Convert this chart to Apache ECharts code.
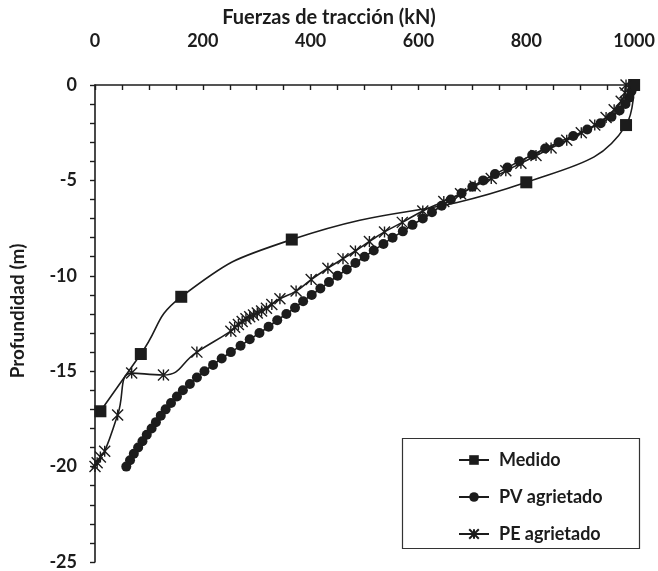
<!DOCTYPE html>
<html><head><meta charset="utf-8">
<script src="https://cdn.jsdelivr.net/npm/echarts@6/dist/echarts.min.js"></script>
<style>html,body{margin:0;padding:0;background:#fff}#c{width:658px;height:571px}</style>
</head><body><div id="c"></div>
<script>
// ---- data ----
const xTickMin = 0, xTickMax = 1000, xTickStep = 200;
const yTickMin = -25, yTickMax = 0, yTickStep = 5;

const medidoX = [1000, 985, 800, 365, 160, 85, 10];
const medidoY = [0, -2.1, -5.1, -8.1, -11.1, -14.1, -17.1];

const pvY = [0,-0.33,-0.67,-1,-1.33,-1.67,-2,-2.33,-2.67,-3,-3.33,-3.67,-4,-4.33,-4.67,-5,-5.33,-5.67,-6,-6.33,-6.67,-7,-7.33,-7.67,-8,-8.33,-8.67,-9,-9.33,-9.67,-10,-10.33,-10.67,-11,-11.33,-11.67,-12,-12.33,-12.67,-13,-13.33,-13.67,-14,-14.33,-14.67,-15,-15.33,-15.67,-16,-16.33,-16.67,-17,-17.33,-17.67,-18,-18.33,-18.67,-19,-19.33,-19.67,-20];
const pvX = [997,995,991,984,973,958,938,913,887,860,835,811,787,765,742,720,700,680,660,643,625,608,589,571,552,535,517,500,483,467,450,434,418,402,386,371,355,338,322,305,287,270,252,235,219,203,189,176,163,152,141,131,122,113,105,96,88,80,72,65,58];

const peY = [0,-0.4,-0.85,-1.3,-1.7,-2.1,-2.5,-2.9,-3.3,-3.7,-4.1,-4.5,-4.9,-5.3,-5.7,-6.1,-6.6,-7.2,-7.7,-8.2,-8.7,-9.1,-9.6,-10.2,-10.8,-11.2,-11.5,-11.7,-11.85,-11.95,-12.05,-12.15,-12.25,-12.4,-12.55,-12.7,-12.9,-14.0,-15.2,-15.1,-17.3,-19.2,-19.5,-19.8,-20.0];
const peX = [985,983,976,963,948,927,902,875,846,818,790,762,735,705,678,647,608,570,537,509,483,460,432,401,373,343,328,318,309,301,294,287,280,273,266,259,252,189,127,68,42,18,10,4,0];

const seriesNames = ['Medido', 'PV agrietado', 'PE agrietado'];
const xTitle = 'Fuerzas de tracción (kN)';
const yTitle = 'Profundidad (m)';

// ---- chart ----
const ink = '#1c1c1c';
const font = 'Lato, "Open Sans", sans-serif';
const pairs = (xs, ys) => xs.map((x, i) => [x, ys[i]]);
const starPath = 'path://M0,0L10,10M10,0L0,10M5,0L5,10';

const chart = echarts.init(document.getElementById('c'), null, {renderer: 'canvas'});
chart.setOption({
  animation: false,
  backgroundColor: '#fff',
  title: {
    text: xTitle, left: 'center', top: 3,
    textStyle: {fontFamily: font, fontWeight: 'bold', fontSize: 20, color: ink}
  },
  grid: {left: 95, right: 19, top: 85, bottom: 7, containLabel: false},
  xAxis: {
    type: 'value', position: 'top', min: xTickMin, max: xTickMax, interval: xTickStep,
    axisLine: {show: true, onZero: false, lineStyle: {color: ink, width: 1.6}},
    axisTick: {show: true, inside: true, length: 5, lineStyle: {color: ink, width: 1.4}},
    minorTick: {show: true, splitNumber: 4, length: 5, lineStyle: {color: ink, width: 1.4}},
    splitLine: {show: false},
    axisLabel: {margin: 35, fontFamily: font, fontWeight: 'bold', fontSize: 18, color: ink,
                formatter: v => String(v)}
  },
  yAxis: {
    type: 'value', min: yTickMin, max: yTickMax, interval: yTickStep,
    axisLine: {show: true, onZero: false, lineStyle: {color: ink, width: 1.6}},
    axisTick: {show: true, inside: false, length: 5, lineStyle: {color: ink, width: 1.4}},
    minorTick: {show: true, splitNumber: 5, length: 5, lineStyle: {color: ink, width: 1.4}},
    splitLine: {show: false},
    axisLabel: {margin: 18, fontFamily: font, fontWeight: 'bold', fontSize: 18, color: ink,
                formatter: v => String(v)}
  },
  legend: {
    orient: 'vertical', left: 453, top: 446, itemWidth: 30, itemHeight: 12, itemGap: 19,
    data: seriesNames,
    textStyle: {fontFamily: font, fontWeight: 'bold', fontSize: 18, lineHeight: 18, color: ink, padding: [0,0,0,5]}
  },
  graphic: [
    {type: 'rect', left: 400, top: 436, shape: {width: 237, height: 110},
     style: {fill: 'none', stroke: '#333', lineWidth: 1.2}, z: 0},
    {type: 'text', x: 18, y: 311, rotation: Math.PI / 2,
     style: {text: yTitle, fontFamily: font, fontWeight: 'bold', fontSize: 19, fill: ink,
             align: 'center', verticalAlign: 'middle'}}
  ],
  series: [
    {name: seriesNames[0], type: 'line', smooth: 0.5, data: pairs(medidoX, medidoY),
     symbol: 'rect', symbolSize: 12, lineStyle: {color: ink, width: 1.6},
     itemStyle: {color: ink}, z: 3},
    {name: seriesNames[1], type: 'line', smooth: 0.5, data: pairs(pvX, pvY),
     symbol: 'circle', symbolSize: 10, lineStyle: {color: ink, width: 1.6},
     itemStyle: {color: ink}, z: 2},
    {name: seriesNames[2], type: 'line', smooth: 0.5, data: pairs(peX, peY),
     symbol: starPath, symbolSize: 11, lineStyle: {color: ink, width: 1.6},
     itemStyle: {color: ink, borderColor: ink, borderWidth: 1.4}, z: 4}
  ]
});
</script>
</body></html>
